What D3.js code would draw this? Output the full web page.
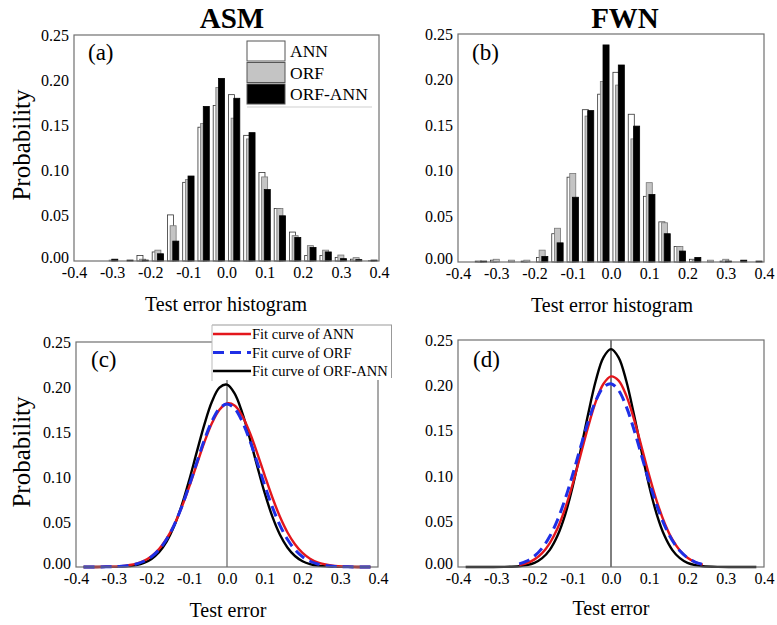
<!DOCTYPE html>
<html>
<head>
<meta charset="utf-8">
<script src="https://cdn.jsdelivr.net/npm/d3@7"></script>
<style>
  html, body { margin: 0; padding: 0; background: #fff; }
  svg { display: block; }
  svg text { font-family: "Liberation Serif", "Times New Roman", serif !important; fill: #000; }
</style>
</head>
<body>
<svg id="chart" width="777" height="625"></svg>
<script>
// ---- histogram bins (bin centres, width 0.04) ----
const binCenters = [-0.38,-0.34,-0.30,-0.26,-0.22,-0.18,-0.14,-0.10,-0.06,-0.02,
                    0.02,0.06,0.10,0.14,0.18,0.22,0.26,0.30,0.34,0.38];

// ASM test-error histograms
const asmANN    = [0,0,0,0,0.006,0.010,0.051,0.087,0.148,0.172,0.184,0.139,0.098,0.058,0.032,0.006,0.006,0.004,0.002,0];
const asmORF    = [0,0,0.001,0,0.002,0.012,0.039,0.090,0.152,0.192,0.158,0.135,0.093,0.058,0.028,0.017,0.012,0.0066,0.0037,0.0005];
const asmORFANN = [0,0,0.002,0.001,0.001,0.008,0.022,0.094,0.171,0.202,0.180,0.142,0.079,0.050,0.026,0.015,0.010,0.0026,0.0015,0.001];

// FWN test-error histograms
const fwnANN    = [0,0.001,0.002,0,0.001,0.005,0.031,0.093,0.167,0.184,0.208,0.162,0.072,0.044,0.017,0.003,0,0.001,0,0];
const fwnORF    = [0,0.0005,0.003,0.002,0.002,0.013,0.037,0.097,0.160,0.198,0.194,0.135,0.087,0.043,0.017,0.002,0.002,0.003,0,0];
const fwnORFANN = [0,0.001,0,0,0,0.006,0.021,0.071,0.166,0.238,0.216,0.149,0.074,0.031,0.012,0.005,0,0.001,0.002,0.001];

// ---- fitted curves, sampled along the test-error axis ----
const curveX = [-0.38,-0.32,-0.28,-0.24,-0.22,-0.20,-0.18,-0.16,-0.14,-0.12,-0.10,-0.08,-0.06,-0.04,-0.02,0,
                0.02,0.04,0.06,0.08,0.10,0.12,0.14,0.16,0.18,0.20,0.22,0.24,0.28,0.32,0.38];

const asmFitANN    = [0,0.0002,0.001,0.0038,0.0069,0.0121,0.020,0.0314,0.0468,0.0664,0.0893,0.1141,0.1386,0.1597,0.1748,0.1817,
                      0.1794,0.1682,0.1497,0.1266,0.1016,0.0775,0.0561,0.0386,0.0252,0.0156,0.0092,0.0051,0.0014,0.0003,0];
const asmFitORF    = [0,0.0002,0.0008,0.0034,0.0064,0.0114,0.0192,0.0308,0.0466,0.0668,0.0906,0.1162,0.1411,0.1620,0.1761,0.181,
                      0.1761,0.1620,0.1411,0.1162,0.0906,0.0668,0.0466,0.0308,0.0192,0.0114,0.0064,0.0034,0.0008,0.0002,0];
const asmFitORFANN = [0,0.0001,0.0004,0.0022,0.0045,0.0089,0.0164,0.0282,0.0454,0.0685,0.0967,0.1279,0.1583,0.1836,0.1993,0.2026,
                      0.1929,0.1719,0.1435,0.1121,0.0820,0.0562,0.0361,0.0217,0.0122,0.0064,0.0032,0.0015,0.0003,0.0001,0];

const fwnFitANN    = [null,null,null,0.0021,0.0043,0.0084,0.0153,0.0264,0.0425,0.0644,0.0917,0.1226,0.1540,0.1818,0.2015,0.2099,
                      0.2053,0.1887,0.1629,0.1322,0.1007,0.0721,0.0485,0.0306,0.0182,0.0101,0.0053,0.0026,null,null,null];
const fwnFitORF    = [null,null,null,0.0034,0.0066,0.0121,0.0208,0.0338,0.0517,0.0748,0.1021,0.1314,0.1596,0.1829,0.1978,0.2019,
                      0.1944,0.1766,0.1514,0.1225,0.0935,0.0674,0.0458,0.0294,0.0178,0.0101,0.0055,0.0028,null,null,null];
const fwnFitORFANN = [0,0,0.0001,0.0008,0.002,0.0045,0.0097,0.0189,0.0343,0.0575,0.089,0.1272,0.1679,0.2048,0.2307,0.24,
                      0.2307,0.2048,0.1679,0.1272,0.089,0.0575,0.0343,0.0189,0.0097,0.0045,0.002,0.0008,0.0001,0,0];

// ---- axis ticks & labels ----
const xTicks = [-0.4,-0.3,-0.2,-0.1,0,0.1,0.2,0.3,0.4];
const yTicks = [0,0.05,0.10,0.15,0.20,0.25];
const histNames = ["ANN","ORF","ORF-ANN"];
const fitNames  = ["Fit curve of ANN","Fit curve of ORF","Fit curve of ORF-ANN"];

const svg = d3.select("#chart");
const FONT = '"Liberation Serif", "Times New Roman", serif';

function makePanel(box) {
  const x = d3.scaleLinear().domain([-0.4, 0.4]).range([box.x0, box.x1]);
  const y = d3.scaleLinear().domain([0, 0.25]).range([box.yBot, box.yTop]);
  const g = svg.append("g");

  const xa = g.append("g").attr("transform", `translate(0,${box.yBot})`)
    .call(d3.axisBottom(x).tickValues(xTicks).tickSize(0).tickPadding(6).tickFormat(d => d.toFixed(1)));
  const ya = g.append("g").attr("transform", `translate(${box.x0},0)`)
    .call(d3.axisLeft(y).tickValues(yTicks).tickSize(0).tickPadding(5).tickFormat(d => d.toFixed(2)));
  [xa, ya].forEach(a => {
    a.attr("font-family", FONT).attr("font-size", 16);
    a.select(".domain").remove();
    a.selectAll("text").style("font-family", FONT).style("font-size", "16px").attr("fill", "#000");
  });
  // lift the bottom y label slightly so it clears the x labels at the corner
  ya.selectAll(".tick").filter(d => d === 0).select("text").attr("dy", "0.1em");
  return { x, y, g };
}

function frame(p, box) {
  p.g.append("rect")
    .attr("x", box.x0).attr("y", box.yTop)
    .attr("width", box.x1 - box.x0).attr("height", box.yBot - box.yTop)
    .attr("fill", "none").attr("stroke", "#707070").attr("stroke-width", 1.2);
}

const barStyles = [
  { fill: "#ffffff", stroke: "#333" },
  { fill: "#c4c4c4", stroke: "#777" },
  { fill: "#000000", stroke: "#000" }
];
const barW = 0.0158, barShift = 0.0070;

function drawHist(p, series) {
  series.forEach((vals, k) => {
    const st = barStyles[k];
    p.g.append("g").selectAll("rect")
      .data(binCenters.map((c, i) => ({ c, v: vals[i] })).filter(d => d.v > 0))
      .join("rect")
      .attr("x", d => p.x(d.c + (k - 1) * barShift - barW / 2))
      .attr("width", d => p.x(barW) - p.x(0))
      .attr("y", d => p.y(d.v))
      .attr("height", d => p.y(0) - p.y(d.v))
      .attr("fill", st.fill).attr("stroke", st.stroke).attr("stroke-width", 0.8);
  });
}

const fitStyles = [
  { color: "#e3161c", width: 2.4, dash: null },
  { color: "#1f2fe6", width: 3, dash: "11,6" },
  { color: "#000000", width: 2.4, dash: null }
];

function drawFits(p, series, zeroColor, zeroWidth) {
  p.g.append("line")
    .attr("x1", p.x(0)).attr("x2", p.x(0))
    .attr("y1", p.y(0.25)).attr("y2", p.y(0))
    .attr("stroke", zeroColor).attr("stroke-width", zeroWidth);
  const order = [2, 0, 1];
  order.forEach(k => {
    const st = fitStyles[k];
    const vals = series[k];
    const line = d3.line()
      .defined((d, i) => vals[i] !== null)
      .x((d, i) => p.x(curveX[i]))
      .y((d, i) => p.y(vals[i]))
      .curve(d3.curveCatmullRom.alpha(0.5));
    p.g.append("path").datum(vals)
      .attr("d", line)
      .attr("fill", "none")
      .attr("stroke", st.color).attr("stroke-width", st.width)
      .attr("stroke-dasharray", st.dash)
      .attr("stroke-linejoin", "round");
  });
}

function label(txt, x, y, size, opts = {}) {
  const t = svg.append("text").attr("x", x).attr("y", y)
    .attr("font-size", size).attr("text-anchor", opts.anchor || "middle")
    .attr("font-weight", opts.bold ? "bold" : "normal").text(txt);
  if (opts.rotate) t.attr("transform", `rotate(-90,${x},${y})`);
  return t;
}

// ---- panel boxes ----
const boxA = { x0: 74,  x1: 379, yTop: 35,  yBot: 261 };
const boxB = { x0: 458, x1: 764, yTop: 34,  yBot: 262 };
const boxC = { x0: 76,  x1: 378, yTop: 342, yBot: 567 };
const boxD = { x0: 458, x1: 764, yTop: 340, yBot: 567 };

// (a) ASM histogram
const pA = makePanel(boxA);
drawHist(pA, [asmANN, asmORF, asmORFANN]);
frame(pA, boxA);

// (b) FWN histogram
const pB = makePanel(boxB);
drawHist(pB, [fwnANN, fwnORF, fwnORFANN]);
frame(pB, boxB);

// (c) ASM fitted curves
const pC = makePanel(boxC);
drawFits(pC, [asmFitANN, asmFitORF, asmFitORFANN], "#8a8a8a", 1.6);
frame(pC, boxC);

// (d) FWN fitted curves
const pD = makePanel(boxD);
drawFits(pD, [fwnFitANN, fwnFitORF, fwnFitORFANN], "#000", 1);
frame(pD, boxD);

// ---- titles & axis titles ----
label("ASM", 232, 28, 29, { bold: true });
label("FWN", 625, 28, 29, { bold: true });
label("Test error histogram", 226, 311, 20);
label("Test error histogram", 612, 312, 20);
label("Test error", 228, 617, 20);
label("Test error", 611, 615, 20);
label("Probability", 30, 145, 25, { rotate: true });
label("Probability", 30, 452, 25, { rotate: true });

label("(a)", 88, 60, 23, { anchor: "start" });
label("(b)", 472, 60, 23, { anchor: "start" });
label("(c)", 91, 367, 23, { anchor: "start" });
label("(d)", 473, 367, 23, { anchor: "start" });

// ---- legend for the histograms ----
const legA = svg.append("g");
histNames.forEach((name, k) => {
  const top = 41 + k * 21.5;
  legA.append("rect").attr("x", 247).attr("y", top).attr("width", 38).attr("height", 20)
    .attr("fill", barStyles[k].fill).attr("stroke", "#555").attr("stroke-width", 1);
  legA.append("text").attr("x", 290).attr("y", top + 16).attr("font-size", 17.5).text(name);
});
legA.append("line").attr("x1", 247).attr("x2", 372).attr("y1", 107).attr("y2", 107)
  .attr("stroke", "#cfcfcf").attr("stroke-width", 1.2);

// ---- legend for the fitted curves ----
svg.append("clipPath").attr("id", "legClip")
  .append("rect").attr("x", 211).attr("y", 324).attr("width", 181).attr("height", 57);
const legC = svg.append("g").attr("clip-path", "url(#legClip)");
legC.append("rect").attr("x", 212).attr("y", 325).attr("width", 180).attr("height", 55)
  .attr("fill", "#fff").attr("stroke", "none");
legC.append("line").attr("x1", 212).attr("x2", 392).attr("y1", 325).attr("y2", 325).attr("stroke", "#999").attr("stroke-width", 1);
legC.append("line").attr("x1", 212).attr("x2", 212).attr("y1", 325).attr("y2", 381).attr("stroke", "#bbb").attr("stroke-width", 1);
legC.append("line").attr("x1", 391.5).attr("x2", 391.5).attr("y1", 325).attr("y2", 378).attr("stroke", "#999").attr("stroke-width", 1);
fitNames.forEach((name, k) => {
  const yy = 334 + k * 18.5;
  const st = fitStyles[k];
  legC.append("line").attr("x1", 213).attr("x2", 251).attr("y1", yy).attr("y2", yy)
    .attr("stroke", st.color).attr("stroke-width", st.width).attr("stroke-dasharray", st.dash);
  legC.append("text").attr("x", 252).attr("y", yy + 5).attr("font-size", 14.5).text(name);
});
</script>
</body>
</html>
